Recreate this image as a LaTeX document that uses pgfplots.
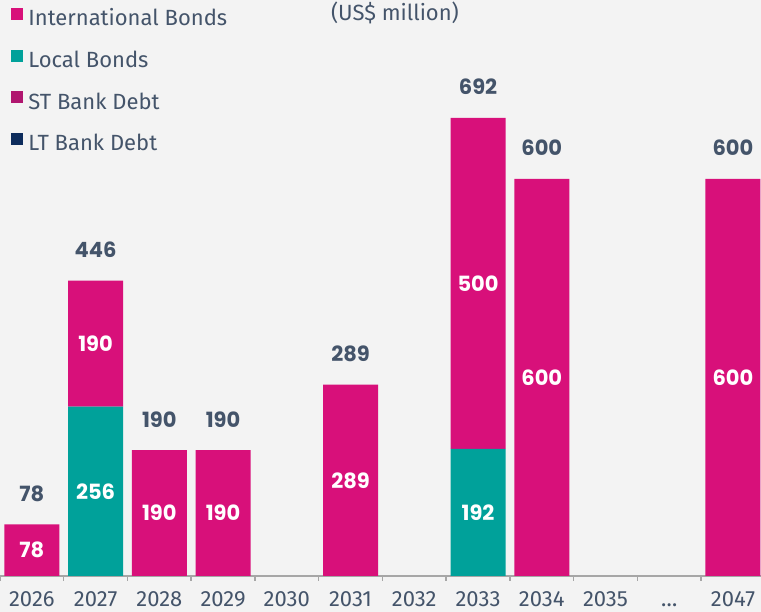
\documentclass[border=0pt]{standalone}
\usepackage{pgfplots}
\pgfplotsset{compat=1.18}
\usepackage{fontspec}
\setmainfont{Fira Sans}
\newfontfamily\numfont{Poppins}
\definecolor{intb}{HTML}{D8107A}
\definecolor{locb}{HTML}{00A19A}
\definecolor{stb}{HTML}{B0166F}
\definecolor{ltb}{HTML}{0D2C5C}
\definecolor{txt}{HTML}{44546A}
\definecolor{bg}{HTML}{F3F3F3}
\definecolor{axl}{HTML}{A6A6A6}
\begin{document}
\begin{tikzpicture}
\fill[bg] (0,-36pt) rectangle (761pt,576pt);
\begin{axis}[
  at={(0,0)}, anchor=south west,
  scale only axis, width=761pt, height=576pt,
  xmin=-0.5, xmax=11.44, ymin=0, ymax=870,
  ybar stacked, bar width=55pt,
  hide y axis,
  axis x line=bottom,
  x axis line style={-, axl, line width=1.5pt},
  xtick={0,...,11},
  xticklabels={2026,2027,2028,2029,2030,2031,2032,2033,2034,2035,\ldots,2047},
  major tick length=0pt,
  xticklabel style={font=\fontsize{22}{24}\selectfont, text=txt, inner sep=0pt, text height=15.5pt, text depth=0pt, yshift=-15pt},
  extra x ticks={-0.5,0.5,1.5,2.5,3.5,4.5,5.5,6.5,7.5,8.5,9.5,10.5},
  extra x tick labels={},
  extra x tick style={major tick length=5pt, tick align=outside, tick style={axl, line width=1.5pt}},
  title={(US\$ million)},
  title style={at={(0.519,1)}, anchor=center, yshift=-19pt, font=\fontsize{22}{24}\selectfont, text=txt},
  legend style={at={(0,1)}, anchor=north west, xshift=11pt, yshift=-8pt, draw=none, fill=none,
    inner sep=0pt, outer sep=0pt, font=\fontsize{22}{24}\selectfont, text=txt, row sep=18pt,
    nodes={inner sep=1pt, text height=15pt, text depth=5pt}},
  legend cell align=left,
  /tikz/every odd column/.append style={column sep=5pt},
]
\addplot[fill=locb, draw=none, forget plot]
  coordinates {(0,0) (1,256) (2,0) (3,0) (4,0) (5,0) (6,0) (7,192) (8,0) (9,0) (10,0) (11,0)};
\addplot[fill=intb, draw=none, forget plot]
  coordinates {(0,78) (1,190) (2,190) (3,190) (4,0) (5,289) (6,0) (7,500) (8,600) (9,0) (10,0) (11,600)};
\addplot[fill=stb, draw=none, forget plot]
  coordinates {(0,0) (1,0) (2,0) (3,0) (4,0) (5,0) (6,0) (7,0) (8,0) (9,0) (10,0) (11,0)};
\addplot[fill=ltb, draw=none, forget plot]
  coordinates {(0,0) (1,0) (2,0) (3,0) (4,0) (5,0) (6,0) (7,0) (8,0) (9,0) (10,0) (11,0)};
\addlegendimage{legend image code/.code={\fill[intb] (0pt,1.5pt) rectangle (11pt,12.5pt);}}
\addlegendentry{International Bonds}
\addlegendimage{legend image code/.code={\fill[locb] (0pt,1.5pt) rectangle (11pt,12.5pt);}}
\addlegendentry{Local Bonds}
\addlegendimage{legend image code/.code={\fill[stb] (0pt,1.5pt) rectangle (11pt,12.5pt);}}
\addlegendentry{ST Bank Debt}
\addlegendimage{legend image code/.code={\fill[ltb] (0pt,1.5pt) rectangle (11pt,12.5pt);}}
\addlegendentry{LT Bank Debt}
\end{axis}
\begin{axis}[
  at={(0,0)}, anchor=south west,
  scale only axis, width=761pt, height=576pt,
  xmin=-0.5, xmax=11.44, ymin=0, ymax=870,
  hide axis, clip=false,
]
\addplot[draw=none, mark=none, nodes near coords, point meta=explicit symbolic,
  every node near coord/.append style={anchor=center, text=white, font=\numfont\fontsize{21}{24}\selectfont\bfseries}]
  coordinates {(0,39)[78] (1,128)[256] (1,351)[190] (2,95)[190] (3,95)[190] (5,144.5)[289] (7,96)[192] (7,442)[500] (8,300)[600] (11,300)[600]};
\addplot[draw=none, mark=none, nodes near coords, point meta=explicit symbolic,
  every node near coord/.append style={anchor=center, yshift=31pt, text=txt, font=\numfont\fontsize{21}{24}\selectfont\bfseries}]
  coordinates {(0,78)[78] (1,446)[446] (2,190)[190] (3,190)[190] (5,289)[289] (7,692)[692] (8,600)[600] (11,600)[600]};
\end{axis}
\pgfresetboundingbox
\path[use as bounding box] (0,-36pt) rectangle (761pt,576pt);
\end{tikzpicture}
\end{document}
